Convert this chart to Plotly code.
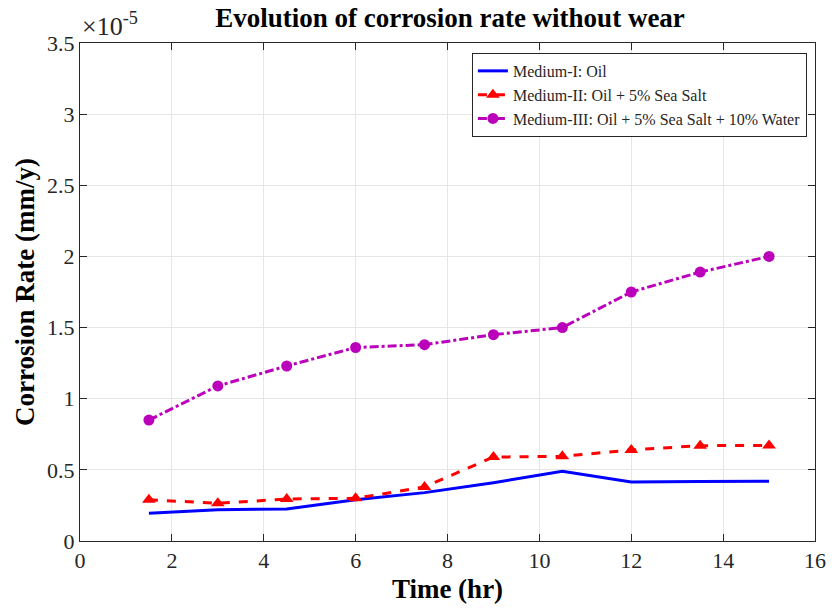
import plotly.graph_objects as go

# Exposure time (hr)
time_hr = [1.5, 3, 4.5, 6, 7.5, 9, 10.5, 12, 13.5, 15]

# Corrosion rate, in units of 1e-5 mm/y
medium_1 = [0.195, 0.22, 0.225, 0.29, 0.34, 0.41, 0.49, 0.415, 0.418, 0.42]
medium_2 = [0.29, 0.265, 0.295, 0.30, 0.38, 0.59, 0.595, 0.64, 0.67, 0.672]
medium_3 = [0.85, 1.09, 1.23, 1.36, 1.38, 1.45, 1.50, 1.75, 1.89, 2.00]

names = [
    "Medium-I: Oil",
    "Medium-II: Oil + 5% Sea Salt",
    "Medium-III: Oil + 5% Sea Salt + 10% Water",
]

x_ticks = [0, 2, 4, 6, 8, 10, 12, 14, 16]
y_ticks = [0, 0.5, 1, 1.5, 2, 2.5, 3, 3.5]
y_tick_labels = ["0", "0.5", "1", "1.5", "2", "2.5", "3", "3.5"]

FONT = "Liberation Serif, Times New Roman, serif"

fig = go.Figure()
fig.add_trace(go.Scatter(
    x=time_hr, y=medium_1, name=names[0], mode="lines",
    line=dict(color="#0000FF", width=3),
))
fig.add_trace(go.Scatter(
    x=time_hr, y=medium_2, name=names[1], mode="lines+markers",
    line=dict(color="#FF0000", width=3, dash="dash"),
    marker=dict(symbol="triangle-up", size=12, color="#FF0000"),
))
fig.add_trace(go.Scatter(
    x=time_hr, y=medium_3, name=names[2], mode="lines+markers",
    line=dict(color="#BB00BB", width=3, dash="dashdot"),
    marker=dict(symbol="circle", size=11, color="#BB00BB"),
))

axis_common = dict(
    showline=True, linecolor="#262626", linewidth=1, mirror="ticks",
    ticks="inside", ticklen=7, tickcolor="#262626",
    showgrid=True, gridcolor="#E6E6E6", gridwidth=1,
    zeroline=False,
    tickfont=dict(family=FONT, size=22, color="#262626"),
)

fig.update_layout(
    width=838, height=611,
    margin=dict(l=80, r=18, t=43, b=70),
    paper_bgcolor="white", plot_bgcolor="white",
    title=dict(
        text="<b>Evolution of corrosion rate without wear</b>",
        x=0.537, xanchor="center", y=0.972, yanchor="middle",
        font=dict(family=FONT, size=27, color="black"),
    ),
    xaxis=dict(
        range=[0, 16], tickvals=x_ticks,
        title=dict(text="<b>Time (hr)</b>", font=dict(family=FONT, size=27, color="black"), standoff=6),
        **axis_common,
    ),
    yaxis=dict(
        range=[0, 3.5], tickvals=y_ticks, ticktext=y_tick_labels,
        title=dict(text="<b>Corrosion Rate (mm/y)</b>", font=dict(family=FONT, size=27, color="black"), standoff=4),
        **axis_common,
    ),
    legend=dict(
        x=0.989, xanchor="right", y=0.98, yanchor="top",
        bgcolor="white", bordercolor="#262626", borderwidth=1,
        font=dict(family=FONT, size=16, color="#262626"),
        tracegroupgap=0, itemwidth=30,
    ),
    showlegend=True,
)

fig.add_annotation(
    text="\u00d710<sup>-5</sup>", xref="paper", yref="paper",
    x=0.0, y=1.0, xanchor="left", yanchor="bottom", showarrow=False,
    font=dict(family=FONT, size=26, color="#262626"),
)

fig.write_html("out.html")
